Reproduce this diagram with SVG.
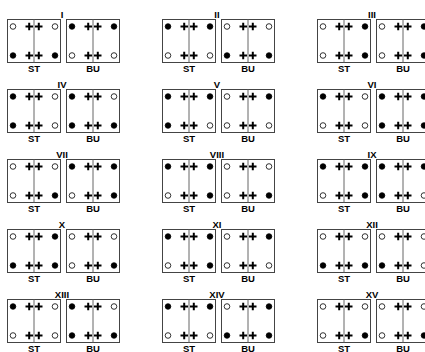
<svg xmlns="http://www.w3.org/2000/svg" xmlns:xlink="http://www.w3.org/1999/xlink" width="425" height="352" viewBox="0 0 425 352">
<style>
.bx{fill:#fff;stroke:#444;stroke-width:1}
.dv{stroke:#666;stroke-width:1}
.cr{stroke:#000;stroke-width:2}
.f{fill:#000;stroke:#000;stroke-width:0.8}
.o{fill:#fff;stroke:#000;stroke-width:0.8}
text{font-family:"Liberation Sans",Arial,sans-serif;font-weight:bold;text-anchor:middle;fill:#000}
.num{font-size:9.5px}
.lbl{font-size:9.5px}
</style>
<defs>
<g id="box">
<rect class="bx" x="0.5" y="0.5" width="53" height="43"/>
<line class="dv" x1="27" y1="0.5" x2="27" y2="43.5"/>
<path class="cr" d="M18.5 7.5h7.5M22.2 3.8v7.4M28 7.5h7.5M31.8 3.8v7.4M18.5 36.5h7.5M22.2 32.8v7.4M28 36.5h7.5M31.8 32.8v7.4"/>
</g>
</defs>
<rect width="425" height="352" fill="#fff"/>
<g id="connectors"/>
<g id="p1" transform="translate(7,19)">
<text class="num" x="55" y="-1">I</text>
<use xlink:href="#box"/><use xlink:href="#box" x="59"/>
<circle class="o" cx="6" cy="7.5" r="2.8"/><circle class="o" cx="48" cy="7.5" r="2.8"/><circle class="f" cx="6" cy="36.5" r="2.8"/><circle class="f" cx="48" cy="36.5" r="2.8"/>
<circle class="f" cx="65" cy="7.5" r="2.8"/><circle class="f" cx="107" cy="7.5" r="2.8"/><circle class="o" cx="65" cy="36.5" r="2.8"/><circle class="o" cx="107" cy="36.5" r="2.8"/>
<text class="lbl" x="27" y="52.5">ST</text><text class="lbl" x="86" y="52.5">BU</text>
</g>
<g id="p2" transform="translate(162,19)">
<text class="num" x="55" y="-1">II</text>
<use xlink:href="#box"/><use xlink:href="#box" x="59"/>
<circle class="f" cx="6" cy="7.5" r="2.8"/><circle class="f" cx="48" cy="7.5" r="2.8"/><circle class="o" cx="6" cy="36.5" r="2.8"/><circle class="o" cx="48" cy="36.5" r="2.8"/>
<circle class="o" cx="65" cy="7.5" r="2.8"/><circle class="o" cx="107" cy="7.5" r="2.8"/><circle class="f" cx="65" cy="36.5" r="2.8"/><circle class="f" cx="107" cy="36.5" r="2.8"/>
<text class="lbl" x="27" y="52.5">ST</text><text class="lbl" x="86" y="52.5">BU</text>
</g>
<g id="p3" transform="translate(317,19)">
<text class="num" x="55" y="-1">III</text>
<use xlink:href="#box"/><use xlink:href="#box" x="59"/>
<circle class="o" cx="6" cy="7.5" r="2.8"/><circle class="f" cx="48" cy="7.5" r="2.8"/><circle class="o" cx="6" cy="36.5" r="2.8"/><circle class="f" cx="48" cy="36.5" r="2.8"/>
<circle class="o" cx="65" cy="7.5" r="2.8"/><circle class="f" cx="107" cy="7.5" r="2.8"/><circle class="o" cx="65" cy="36.5" r="2.8"/><circle class="f" cx="107" cy="36.5" r="2.8"/>
<text class="lbl" x="27" y="52.5">ST</text><text class="lbl" x="86" y="52.5">BU</text>
</g>
<g id="p4" transform="translate(7,89)">
<text class="num" x="55" y="-1">IV</text>
<use xlink:href="#box"/><use xlink:href="#box" x="59"/>
<circle class="f" cx="6" cy="7.5" r="2.8"/><circle class="o" cx="48" cy="7.5" r="2.8"/><circle class="f" cx="6" cy="36.5" r="2.8"/><circle class="o" cx="48" cy="36.5" r="2.8"/>
<circle class="f" cx="65" cy="7.5" r="2.8"/><circle class="o" cx="107" cy="7.5" r="2.8"/><circle class="f" cx="65" cy="36.5" r="2.8"/><circle class="f" cx="107" cy="36.5" r="2.8"/>
<text class="lbl" x="27" y="52.5">ST</text><text class="lbl" x="86" y="52.5">BU</text>
</g>
<g id="p5" transform="translate(162,89)">
<text class="num" x="55" y="-1">V</text>
<use xlink:href="#box"/><use xlink:href="#box" x="59"/>
<circle class="f" cx="6" cy="7.5" r="2.8"/><circle class="f" cx="48" cy="7.5" r="2.8"/><circle class="f" cx="6" cy="36.5" r="2.8"/><circle class="o" cx="48" cy="36.5" r="2.8"/>
<circle class="o" cx="65" cy="7.5" r="2.8"/><circle class="f" cx="107" cy="7.5" r="2.8"/><circle class="o" cx="65" cy="36.5" r="2.8"/><circle class="o" cx="107" cy="36.5" r="2.8"/>
<text class="lbl" x="27" y="52.5">ST</text><text class="lbl" x="86" y="52.5">BU</text>
</g>
<g id="p6" transform="translate(317,89)">
<text class="num" x="55" y="-1">VI</text>
<use xlink:href="#box"/><use xlink:href="#box" x="59"/>
<circle class="f" cx="6" cy="7.5" r="2.8"/><circle class="o" cx="48" cy="7.5" r="2.8"/><circle class="o" cx="6" cy="36.5" r="2.8"/><circle class="o" cx="48" cy="36.5" r="2.8"/>
<circle class="f" cx="65" cy="7.5" r="2.8"/><circle class="f" cx="107" cy="7.5" r="2.8"/><circle class="f" cx="65" cy="36.5" r="2.8"/><circle class="f" cx="107" cy="36.5" r="2.8"/>
<text class="lbl" x="27" y="52.5">ST</text><text class="lbl" x="86" y="52.5">BU</text>
</g>
<g id="p7" transform="translate(7,159)">
<text class="num" x="55" y="-1">VII</text>
<use xlink:href="#box"/><use xlink:href="#box" x="59"/>
<circle class="o" cx="6" cy="7.5" r="2.8"/><circle class="o" cx="48" cy="7.5" r="2.8"/><circle class="o" cx="6" cy="36.5" r="2.8"/><circle class="f" cx="48" cy="36.5" r="2.8"/>
<circle class="f" cx="65" cy="7.5" r="2.8"/><circle class="f" cx="107" cy="7.5" r="2.8"/><circle class="o" cx="65" cy="36.5" r="2.8"/><circle class="f" cx="107" cy="36.5" r="2.8"/>
<text class="lbl" x="27" y="52.5">ST</text><text class="lbl" x="86" y="52.5">BU</text>
</g>
<g id="p8" transform="translate(162,159)">
<text class="num" x="55" y="-1">VIII</text>
<use xlink:href="#box"/><use xlink:href="#box" x="59"/>
<circle class="f" cx="6" cy="7.5" r="2.8"/><circle class="f" cx="48" cy="7.5" r="2.8"/><circle class="o" cx="6" cy="36.5" r="2.8"/><circle class="f" cx="48" cy="36.5" r="2.8"/>
<circle class="o" cx="65" cy="7.5" r="2.8"/><circle class="o" cx="107" cy="7.5" r="2.8"/><circle class="o" cx="65" cy="36.5" r="2.8"/><circle class="f" cx="107" cy="36.5" r="2.8"/>
<text class="lbl" x="27" y="52.5">ST</text><text class="lbl" x="86" y="52.5">BU</text>
</g>
<g id="p9" transform="translate(317,159)">
<text class="num" x="55" y="-1">IX</text>
<use xlink:href="#box"/><use xlink:href="#box" x="59"/>
<circle class="f" cx="6" cy="7.5" r="2.8"/><circle class="f" cx="48" cy="7.5" r="2.8"/><circle class="o" cx="6" cy="36.5" r="2.8"/><circle class="f" cx="48" cy="36.5" r="2.8"/>
<circle class="f" cx="65" cy="7.5" r="2.8"/><circle class="f" cx="107" cy="7.5" r="2.8"/><circle class="f" cx="65" cy="36.5" r="2.8"/><circle class="o" cx="107" cy="36.5" r="2.8"/>
<text class="lbl" x="27" y="52.5">ST</text><text class="lbl" x="86" y="52.5">BU</text>
</g>
<g id="p10" transform="translate(7,229)">
<text class="num" x="55" y="-1">X</text>
<use xlink:href="#box"/><use xlink:href="#box" x="59"/>
<circle class="o" cx="6" cy="7.5" r="2.8"/><circle class="f" cx="48" cy="7.5" r="2.8"/><circle class="f" cx="6" cy="36.5" r="2.8"/><circle class="f" cx="48" cy="36.5" r="2.8"/>
<circle class="o" cx="65" cy="7.5" r="2.8"/><circle class="o" cx="107" cy="7.5" r="2.8"/><circle class="o" cx="65" cy="36.5" r="2.8"/><circle class="f" cx="107" cy="36.5" r="2.8"/>
<text class="lbl" x="27" y="52.5">ST</text><text class="lbl" x="86" y="52.5">BU</text>
</g>
<g id="p11" transform="translate(162,229)">
<text class="num" x="55" y="-1">XI</text>
<use xlink:href="#box"/><use xlink:href="#box" x="59"/>
<circle class="f" cx="6" cy="7.5" r="2.8"/><circle class="f" cx="48" cy="7.5" r="2.8"/><circle class="o" cx="6" cy="36.5" r="2.8"/><circle class="f" cx="48" cy="36.5" r="2.8"/>
<circle class="o" cx="65" cy="7.5" r="2.8"/><circle class="f" cx="107" cy="7.5" r="2.8"/><circle class="o" cx="65" cy="36.5" r="2.8"/><circle class="o" cx="107" cy="36.5" r="2.8"/>
<text class="lbl" x="27" y="52.5">ST</text><text class="lbl" x="86" y="52.5">BU</text>
</g>
<g id="p12" transform="translate(317,229)">
<text class="num" x="55" y="-1">XII</text>
<use xlink:href="#box"/><use xlink:href="#box" x="59"/>
<circle class="o" cx="6" cy="7.5" r="2.8"/><circle class="o" cx="48" cy="7.5" r="2.8"/><circle class="f" cx="6" cy="36.5" r="2.8"/><circle class="f" cx="48" cy="36.5" r="2.8"/>
<circle class="o" cx="65" cy="7.5" r="2.8"/><circle class="o" cx="107" cy="7.5" r="2.8"/><circle class="f" cx="65" cy="36.5" r="2.8"/><circle class="o" cx="107" cy="36.5" r="2.8"/>
<text class="lbl" x="27" y="52.5">ST</text><text class="lbl" x="86" y="52.5">BU</text>
</g>
<g id="p13" transform="translate(7,299)">
<text class="num" x="55" y="-1">XIII</text>
<use xlink:href="#box"/><use xlink:href="#box" x="59"/>
<circle class="f" cx="6" cy="7.5" r="2.8"/><circle class="o" cx="48" cy="7.5" r="2.8"/><circle class="o" cx="6" cy="36.5" r="2.8"/><circle class="o" cx="48" cy="36.5" r="2.8"/>
<circle class="f" cx="65" cy="7.5" r="2.8"/><circle class="o" cx="107" cy="7.5" r="2.8"/><circle class="f" cx="65" cy="36.5" r="2.8"/><circle class="f" cx="107" cy="36.5" r="2.8"/>
<text class="lbl" x="27" y="52.5">ST</text><text class="lbl" x="86" y="52.5">BU</text>
</g>
<g id="p14" transform="translate(162,299)">
<text class="num" x="55" y="-1">XIV</text>
<use xlink:href="#box"/><use xlink:href="#box" x="59"/>
<circle class="f" cx="6" cy="7.5" r="2.8"/><circle class="f" cx="48" cy="7.5" r="2.8"/><circle class="o" cx="6" cy="36.5" r="2.8"/><circle class="o" cx="48" cy="36.5" r="2.8"/>
<circle class="o" cx="65" cy="7.5" r="2.8"/><circle class="f" cx="107" cy="7.5" r="2.8"/><circle class="f" cx="65" cy="36.5" r="2.8"/><circle class="f" cx="107" cy="36.5" r="2.8"/>
<text class="lbl" x="27" y="52.5">ST</text><text class="lbl" x="86" y="52.5">BU</text>
</g>
<g id="p15" transform="translate(317,299)">
<text class="num" x="55" y="-1">XV</text>
<use xlink:href="#box"/><use xlink:href="#box" x="59"/>
<circle class="o" cx="6" cy="7.5" r="2.8"/><circle class="o" cx="48" cy="7.5" r="2.8"/><circle class="o" cx="6" cy="36.5" r="2.8"/><circle class="f" cx="48" cy="36.5" r="2.8"/>
<circle class="o" cx="65" cy="7.5" r="2.8"/><circle class="o" cx="107" cy="7.5" r="2.8"/><circle class="o" cx="65" cy="36.5" r="2.8"/><circle class="f" cx="107" cy="36.5" r="2.8"/>
<text class="lbl" x="27" y="52.5">ST</text><text class="lbl" x="86" y="52.5">BU</text>
</g>
</svg>
